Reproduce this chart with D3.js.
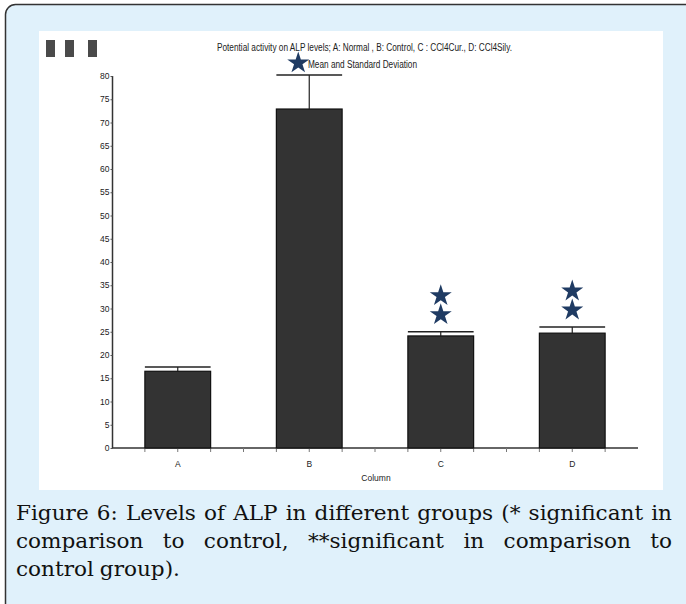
<!DOCTYPE html>
<html>
<head>
<meta charset="utf-8">
<script src="https://cdn.jsdelivr.net/npm/d3@7"></script>
<style>
  html, body { margin: 0; padding: 0; background: #fff; }
  svg { display: block; }
  .chart text { font-family: "Liberation Sans Narrow", "Liberation Sans", Arial, sans-serif; fill: #222; }
</style>
</head>
<body>
<div id="fig"></div>
<script>
var width = 686;
var height = 604;

// chart values
var groups = ["A", "B", "C", "D"];
var means = [16.5, 72.9, 24.1, 24.7];
var sds = [0.9, 7.3, 0.9, 1.3];
var starCounts = [0, 1, 2, 2];
var yTicks = d3.range(0, 81, 5);
var titleText = "Potential activity on ALP levels; A: Normal , B: Control, C : CCl4Cur., D: CCl4Sily.";
var legendText = "Mean and Standard Deviation";
var xLabel = "Column";
var captionLines = [
    "Figure 6: Levels of ALP in different groups (* significant in",
    "comparison to control, **significant in comparison to",
    "control group)."
];

var svg = d3.select("#fig").append("svg")
    .attr("width", width)
    .attr("height", height);

// outer light-blue frame
svg.append("rect")
    .attr("x", 5.5).attr("y", 4.5)
    .attr("width", 720).attr("height", 640)
    .attr("rx", 10)
    .attr("fill", "#e0f1fb")
    .attr("stroke", "#333")
    .attr("stroke-width", 1.5);

// white picture panel
svg.append("rect")
    .attr("x", 39).attr("y", 31)
    .attr("width", 624).attr("height", 459)
    .attr("fill", "#fff");

var g = svg.append("g").attr("class", "chart");

var x = d3.scaleBand()
    .domain(groups)
    .range([112, 638])
    .paddingInner(0.5)
    .paddingOuter(0.25);

var y = d3.scaleLinear()
    .domain([0, 80])
    .range([448, 76]);

var step = x.step();

// three dark swatches top-left
g.selectAll("rect.swatch")
    .data([46, 65, 88])
    .join("rect")
    .attr("class", "swatch")
    .attr("x", d => d).attr("y", 40)
    .attr("width", 9).attr("height", 17)
    .attr("fill", "#4a4a4a");

// title
g.append("text")
    .attr("x", 217).attr("y", 51)
    .attr("font-size", 10)
    .attr("textLength", 295)
    .attr("lengthAdjust", "spacingAndGlyphs")
    .text(titleText);

g.append("text")
    .attr("x", 308).attr("y", 68)
    .attr("font-size", 10)
    .attr("textLength", 109)
    .attr("lengthAdjust", "spacingAndGlyphs")
    .text(legendText);

// y axis
var yAxis = g.append("g")
    .attr("transform", "translate(112.5,0)")
    .call(d3.axisLeft(y).tickValues(yTicks).tickSize(2).tickPadding(1));
yAxis.select(".domain").attr("stroke", "#333").attr("stroke-width", 1.5)
    .attr("d", "M0," + y(80) + "V" + y(0));
yAxis.selectAll(".tick line").attr("stroke", "#555");
yAxis.selectAll(".tick text")
    .attr("font-size", 8.5)
    .attr("font-family", "'Liberation Sans Narrow', 'Liberation Sans', sans-serif")
    .attr("fill", "#333");

// x axis: baseline, quarter-step ticks, labels at band centres
var xa = g.append("g");
xa.append("line")
    .attr("x1", 112).attr("x2", 638)
    .attr("y1", y(0)).attr("y2", y(0))
    .attr("stroke", "#333").attr("stroke-width", 1.5);
xa.selectAll("line.xt")
    .data(d3.range(1, groups.length * 4))
    .join("line")
    .attr("class", "xt")
    .attr("x1", k => 112 + k * step / 4)
    .attr("x2", k => 112 + k * step / 4)
    .attr("y1", y(0)).attr("y2", y(0) + 4)
    .attr("stroke", "#777");
xa.selectAll("text.xl")
    .data(groups)
    .join("text")
    .attr("class", "xl")
    .attr("x", d => x(d) + x.bandwidth() / 2)
    .attr("y", 467)
    .attr("text-anchor", "middle")
    .attr("font-size", 8.5)
    .attr("fill", "#333")
    .text(d => d);
xa.append("text")
    .attr("x", 376).attr("y", 481)
    .attr("text-anchor", "middle")
    .attr("font-size", 8.5)
    .attr("fill", "#333")
    .text(xLabel);

var data = groups.map((d, i) => ({ g: d, mean: means[i], sd: sds[i], stars: starCounts[i] }));

// bars
g.selectAll("rect.bar")
    .data(data)
    .join("rect")
    .attr("class", "bar")
    .attr("x", d => x(d.g))
    .attr("y", d => y(d.mean))
    .attr("width", x.bandwidth())
    .attr("height", d => y(0) - y(d.mean))
    .attr("fill", "#333")
    .attr("stroke", "#111")
    .attr("stroke-width", 1.2);

// error bars
var err = g.selectAll("g.err")
    .data(data)
    .join("g")
    .attr("class", "err");
err.append("line")
    .attr("x1", d => x(d.g) + x.bandwidth() / 2)
    .attr("x2", d => x(d.g) + x.bandwidth() / 2)
    .attr("y1", d => y(d.mean))
    .attr("y2", d => y(d.mean + d.sd))
    .attr("stroke", "#222").attr("stroke-width", 1.2);
err.append("line")
    .attr("x1", d => x(d.g))
    .attr("x2", d => x(d.g) + x.bandwidth())
    .attr("y1", d => y(d.mean + d.sd))
    .attr("y2", d => y(d.mean + d.sd))
    .attr("stroke", "#222").attr("stroke-width", 1.5);

// significance stars
var star = d3.symbol().type(d3.symbolStar).size(150);
var starPos = [];
data.forEach(function(d) {
    var cx = x(d.g) + x.bandwidth() / 2;
    if (d.stars === 1) {
        starPos.push([cx - 11, 63]);
    } else {
        for (var k = 0; k < d.stars; k++) {
            starPos.push([cx, y(d.mean + d.sd) - 17 - k * 19]);
        }
    }
});
g.selectAll("path.star")
    .data(starPos)
    .join("path")
    .attr("class", "star")
    .attr("d", star)
    .attr("transform", d => "translate(" + d[0] + "," + d[1] + ")")
    .attr("fill", "#1f3b63");

// caption, justified by word spacing (slightly stretched to mimic Cambria)
var sx = 1.08;
var cap = svg.append("g")
    .attr("transform", "scale(" + sx + ",1)")
    .attr("font-family", "'DejaVu Serif', 'Liberation Serif', serif")
    .attr("font-size", 20)
    .attr("fill", "#111");
var capLeft = 16 / sx, capRight = 672 / sx;
captionLines.forEach(function(line, i) {
    var words = line.split(" ");
    var yy = 520 + i * 28;
    var nodes = words.map(w => cap.append("text").attr("y", yy).text(w));
    var widths = nodes.map(n => n.node().getComputedTextLength());
    var total = d3.sum(widths);
    var gap = i < captionLines.length - 1 ?
        (capRight - capLeft - total) / (words.length - 1) : 5.5;
    var xx = capLeft;
    nodes.forEach(function(n, j) {
        n.attr("x", xx);
        xx += widths[j] + gap;
    });
});
</script>
</body>
</html>
